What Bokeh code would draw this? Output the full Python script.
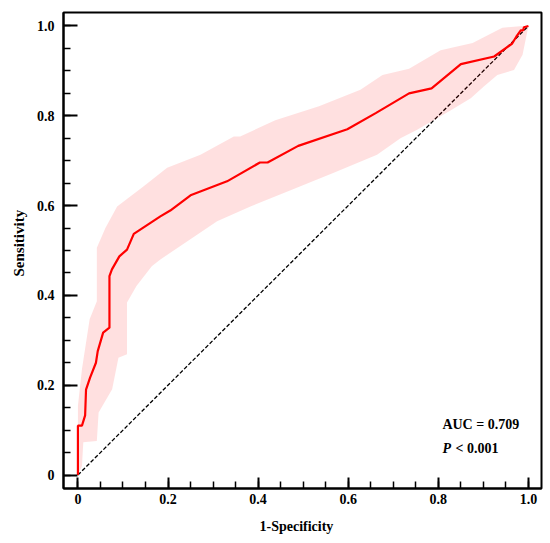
from bokeh.plotting import figure
from bokeh.models import Range1d, FixedTicker, Label, Title
from bokeh.embed import file_html
from bokeh.resources import INLINE

# ROC curve (1-Specificity, Sensitivity)
fpr = [0, 0, 0.009, 0.016, 0.018, 0.027, 0.04, 0.044, 0.056, 0.07, 0.07, 0.0755, 0.092,
       0.109, 0.124, 0.183, 0.205, 0.25, 0.331, 0.404, 0.421, 0.489, 0.598, 0.661, 0.735,
       0.785, 0.85, 0.924, 0.964, 0.973, 0.983, 0.988, 0.99, 1.0]
tpr = [0, 0.11, 0.11, 0.133, 0.19, 0.217, 0.25, 0.276, 0.317, 0.328, 0.443, 0.458, 0.487,
       0.502, 0.537, 0.576, 0.589, 0.623, 0.654, 0.696, 0.696, 0.733, 0.770, 0.806, 0.850,
       0.861, 0.915, 0.932, 0.961, 0.976, 0.990, 0.990, 0.997, 1.0]

# 95% CI band: upper and lower boundaries
ci_up_x = [0, 0, 0.009, 0.026, 0.042, 0.042, 0.061, 0.087, 0.146, 0.198, 0.272, 0.346, 0.36,
           0.438, 0.535, 0.627, 0.676, 0.735, 0.805, 0.876, 0.942, 0.987, 1.0]
ci_up_y = [0, 0.154, 0.236, 0.347, 0.387, 0.506, 0.55, 0.598, 0.643, 0.684, 0.713, 0.754, 0.754,
           0.79, 0.821, 0.858, 0.891, 0.905, 0.946, 0.962, 0.996, 1.0, 1.0]
ci_lo_x = [0, 0.009, 0.012, 0.042, 0.046, 0.076, 0.09, 0.109, 0.109, 0.13, 0.164, 0.183, 0.309,
           0.383, 0.479, 0.568, 0.664, 0.716, 0.753, 0.827, 0.872, 0.901, 0.931, 0.968, 0.987, 1.0]
ci_lo_y = [0, 0.02, 0.073, 0.076, 0.139, 0.191, 0.261, 0.269, 0.384, 0.421, 0.465, 0.48, 0.565,
           0.598, 0.637, 0.673, 0.713, 0.75, 0.769, 0.812, 0.839, 0.865, 0.891, 0.902, 0.936, 1.0]

ref_x = [0, 1]
ref_y = [0, 1]

major_ticks = [0, 0.2, 0.4, 0.6, 0.8, 1.0]
tick_labels = ["0", "0.2", "0.4", "0.6", "0.8", "1.0"]
minor_ticks = [i * 0.05 for i in range(21)]

x_title = "1-Specificity"
y_title = "Sensitivity"
auc_text = "AUC = 0.709"
p_label = "P"
p_text = "< 0.001"

FONT = "Liberation Serif"

p = figure(width=550, height=543, output_backend="svg", toolbar_location=None,
           x_range=Range1d(-0.032, 1.029), y_range=Range1d(-0.030, 1.030),
           min_border_left=63, min_border_right=9, min_border_top=12, min_border_bottom=54)
p.grid.visible = False
p.outline_line_color = "black"
p.outline_line_width = 2
p.background_fill_color = "white"

# diagonal reference
p.line(ref_x, ref_y, line_color="black", line_width=1.3, line_dash="4 2")

# CI band
band_x = ci_up_x + ci_lo_x[::-1]
band_y = ci_up_y + ci_lo_y[::-1]
p.patch(band_x, band_y, fill_color="red", fill_alpha=0.12, line_color=None)

# ROC curve
p.line(fpr, tpr, line_color="#FF0000", line_width=2.2)

overrides = dict(zip(major_ticks, tick_labels))
for ax in (p.xaxis[0], p.yaxis[0]):
    ax.ticker = FixedTicker(ticks=major_ticks, minor_ticks=minor_ticks)
    ax.major_label_overrides = overrides
    ax.axis_line_width = 2
    ax.axis_line_color = "black"
    ax.major_tick_out = 0
    ax.minor_tick_out = 0
    ax.minor_tick_in = 7
    ax.major_tick_line_width = 2
    ax.minor_tick_line_width = 1.5
    ax.major_tick_line_color = "black"
    ax.minor_tick_line_color = "black"
    ax.major_label_text_font = FONT
    ax.major_label_text_font_style = "bold"
    ax.major_label_text_font_size = "14px"
    ax.major_label_text_color = "black"

p.xaxis[0].major_tick_in = 11
p.yaxis[0].major_tick_in = 14
p.xaxis[0].major_label_standoff = 5
p.yaxis[0].major_label_standoff = 9

p.add_layout(Title(text=y_title, align="left", offset=212, standoff=14,
                   text_font=FONT, text_font_style="bold", text_font_size="15px",
                   text_color="black"), "left")
p.add_layout(Title(text=x_title, align="left", offset=196, standoff=20,
                   text_font=FONT, text_font_style="bold", text_font_size="14px",
                   text_color="black"), "below")

p.add_layout(Label(x=0.809, y=0.112, text=auc_text, text_font=FONT, text_font_style="bold",
                   text_font_size="14px", text_baseline="middle", text_color="black"))
p.add_layout(Label(x=0.809, y=0.06, text=p_label, text_font=FONT, text_font_style="bold italic",
                   text_font_size="14px", text_baseline="middle", text_color="black"))
p.add_layout(Label(x=0.838, y=0.06, text=p_text, text_font=FONT, text_font_style="bold",
                   text_font_size="14px", text_baseline="middle", text_color="black"))

open("out.html", "w").write(file_html(p, INLINE))
